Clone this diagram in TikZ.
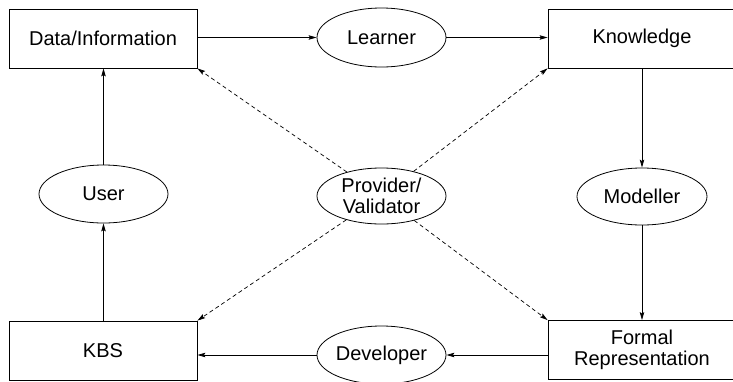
\documentclass[tikz,border=0pt]{standalone}
\usepackage{fontspec}
\setmainfont{Liberation Sans}
\usetikzlibrary{shapes.geometric,arrows.meta}
\begin{document}
\begin{tikzpicture}[x=1pt,y=-1pt,
  every node/.style={font=\fontsize{20}{20.5}\selectfont, align=center},
  boxnode/.style={draw, line width=0.8pt, rectangle, minimum width=188pt, minimum height=59pt, inner sep=0pt},
  ovalnode/.style={draw, line width=0.8pt, ellipse, minimum width=129pt, minimum height=57pt, inner sep=0pt},
  flow/.style={line width=0.8pt, -{Stealth[length=8pt,width=4.5pt,inset=1.5pt]}},
  dflow/.style={line width=0.7pt, dash pattern=on 4pt off 3pt, -{Stealth[length=8pt,width=4.5pt,inset=1.5pt]}}]
\useasboundingbox (0,0) rectangle (733,381);
\clip (0,0) rectangle (733,381);
\node[boxnode] (data) at (103,38.5) {Data/Information};
\node[boxnode] (know) at (642,38.5) {Knowledge};
\node[boxnode] (kbs) at (103,350.5) {KBS};
\node[boxnode] (formal) at (642,350) {Formal\\Representation};
\node[ovalnode, minimum height=59pt] (learner) at (381.5,37.5) {Learner};
\node[ovalnode, minimum height=58pt] (user) at (103.5,194) {User};
\node[ovalnode, minimum height=56pt] (prov) at (381.5,196) {Provider/\\Validator};
\node[ovalnode, minimum width=130pt] (modeller) at (642,196.5) {Modeller};
\node[ovalnode, minimum height=58pt] (dev) at (381.5,355) {Developer};
\draw[flow] (data.east |- learner) -- (learner);
\draw[flow] (learner) -- (know.west |- learner);
\draw[flow] (know) -- (modeller);
\draw[flow] (modeller) -- (formal);
\draw[flow] (formal.west |- dev) -- (dev);
\draw[flow] (dev) -- (kbs.east |- dev);
\draw[flow] (kbs.north -| user) -- (user);
\draw[flow] (user) -- (data.south -| user);
\draw[dflow] (prov) -- (data.south east);
\draw[dflow] (prov) -- (know.south west);
\draw[dflow] (prov) -- (kbs.north east);
\draw[dflow] (prov) -- (formal.north west);
\end{tikzpicture}
\end{document}
